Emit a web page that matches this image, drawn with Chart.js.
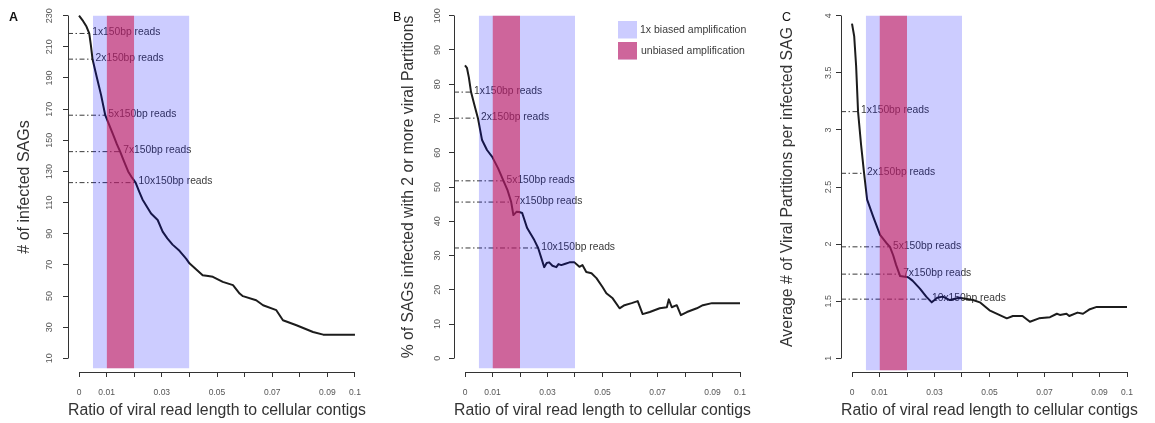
<!DOCTYPE html>
<html><head><meta charset="utf-8">
<script src="https://cdn.jsdelivr.net/npm/chart.js@4.4.1/dist/chart.umd.min.js"></script>
<style>
html,body{margin:0;padding:0;background:#fff;width:1155px;height:423px;overflow:hidden}
.p{position:absolute;top:0;width:385px;height:423px}
canvas{display:block}
</style></head><body>
<div class="p" style="left:0px"><canvas id="cA" width="385" height="423"></canvas></div>
<div class="p" style="left:385px"><canvas id="cB" width="385" height="423"></canvas></div>
<div class="p" style="left:770px"><canvas id="cC" width="385" height="423"></canvas></div>
<script>
// ---------- shared data ----------
const xTickValues = [0, 0.01, 0.02, 0.03, 0.04, 0.05, 0.06, 0.07, 0.08, 0.09, 0.1];
const xTickLabels = ['0', '0.01', '', '0.03', '', '0.05', '', '0.07', '', '0.09', '0.1'];
const xTitle = 'Ratio of viral read length to cellular contigs';
const readLabels = ['1x150bp reads', '2x150bp reads', '5x150bp reads', '7x150bp reads', '10x150bp reads'];
const bandBiased = [0.005, 0.04];
const bandUnbiased = [0.01, 0.02];
const legendLabels = ['1x biased amplification', 'unbiased amplification'];

// ---------- panel A ----------
const aYTicks = [10, 30, 50, 70, 90, 110, 130, 150, 170, 190, 210, 230];
const aYTickLabels = ['10', '30', '50', '70', '90', '110', '130', '150', '170', '190', '210', '230'];
const aYTitle = '# of infected SAGs';
const aX = [0, 0.0015, 0.0027, 0.0037, 0.0043, 0.0049, 0.0065, 0.008, 0.0095, 0.011, 0.0125, 0.0137, 0.0149, 0.0163, 0.0178, 0.0192, 0.0205, 0.0218, 0.023, 0.0261, 0.0285, 0.0303, 0.032, 0.0339, 0.0364, 0.0388, 0.040, 0.0425, 0.0448, 0.0468, 0.0485, 0.0521, 0.0558, 0.0582, 0.0594, 0.0642, 0.0667, 0.0715, 0.0739, 0.0788, 0.0848, 0.0885, 0.1];
const aY = [230, 226.5, 223, 218.6, 211, 202, 190, 179, 166.1, 159.5, 153, 147.5, 142.7, 136.5, 130, 126, 122.8, 117, 112, 103, 98.8, 91.3, 87, 83, 79, 74, 71, 67, 63.4, 62.8, 62.3, 59.1, 57, 51.6, 49.9, 47.3, 44.1, 40.9, 34.4, 31.2, 26.9, 25.2, 25.2];
const aReadX = [0.0037, 0.0049, 0.0095, 0.0149, 0.0205];
const aReadY = [218.6, 202.1, 166.1, 142.7, 122.8];
const aBandBottom = 3.6;

// ---------- panel B ----------
const bYTicks = [0, 10, 20, 30, 40, 50, 60, 70, 80, 90, 100];
const bYTickLabels = ['0', '10', '20', '30', '40', '50', '60', '70', '80', '90', '100'];
const bYTitle = '% of SAGs infected with 2 or more viral Partitions';
const bX = [0, 0.0007, 0.0014, 0.0022, 0.0034, 0.0047, 0.0062, 0.008, 0.0099, 0.012, 0.014, 0.0155, 0.0168, 0.0176, 0.0188, 0.0197, 0.0208, 0.0226, 0.0252, 0.0266, 0.0288, 0.0297, 0.0306, 0.0318, 0.0332, 0.034, 0.035, 0.0365, 0.038, 0.0398, 0.0416, 0.0427, 0.0441, 0.046, 0.0478, 0.050, 0.0514, 0.0537, 0.0562, 0.058, 0.0606, 0.0628, 0.0646, 0.0672, 0.0708, 0.0734, 0.0741, 0.0752, 0.077, 0.0785, 0.0807, 0.0843, 0.0865, 0.0898, 0.1];
const bY = [85.5, 84.8, 82, 77.7, 74, 70.1, 63.7, 60.8, 58.8, 55.5, 51.8, 49, 45.6, 41.8, 42.8, 42.7, 42.4, 38, 34.5, 32.2, 26.6, 27.8, 28, 27, 26.6, 27.5, 27.2, 27.6, 28, 28, 26.7, 27.2, 25.2, 24.8, 23.4, 20.8, 19, 17.5, 14.6, 15.5, 16.1, 16.7, 12.9, 13.5, 14.6, 14.9, 17.2, 14.9, 15.5, 12.6, 13.5, 14.6, 15.5, 16.1, 16.1];
const bReadX = [0.0022, 0.0047, 0.014, 0.0168, 0.0266];
const bReadY = [77.7, 70.1, 51.8, 45.6, 32.2];
const bBandBottom = -2.9;

// ---------- panel C ----------
const cYTicks = [1, 1.5, 2, 2.5, 3, 3.5, 4];
const cYTickLabels = ['1', '1.5', '2', '2.5', '3', '3.5', '4'];
const cYTitle = 'Average # of Viral Partitions per infected SAG';
const cX = [0, 0.0008, 0.0015, 0.0022, 0.0033, 0.0044, 0.0055, 0.0077, 0.0102, 0.0125, 0.0138, 0.015, 0.016, 0.0175, 0.0204, 0.022, 0.0247, 0.027, 0.029, 0.031, 0.033, 0.0356, 0.039, 0.044, 0.0465, 0.050, 0.0563, 0.0585, 0.062, 0.0647, 0.068, 0.072, 0.0745, 0.0756, 0.078, 0.079, 0.082, 0.084, 0.0865, 0.089, 0.1];
const cY = [3.93, 3.82, 3.56, 3.16, 2.87, 2.62, 2.39, 2.24, 2.08, 2.01, 1.976, 1.9, 1.82, 1.72, 1.71, 1.68, 1.61, 1.54, 1.49, 1.53, 1.54, 1.51, 1.53, 1.51, 1.49, 1.42, 1.35, 1.37, 1.37, 1.32, 1.35, 1.36, 1.39, 1.38, 1.39, 1.37, 1.40, 1.39, 1.43, 1.45, 1.45];
const cReadX = [0.0022, 0.0044, 0.0138, 0.0175, 0.028];
const cReadY = [3.16, 2.62, 1.976, 1.737, 1.518];
const cBandBottom = 0.895;

// ---------- styling ----------
const FONT = '"Liberation Sans", Arial, Helvetica, sans-serif';
const BLUE = 'rgba(0,0,255,0.2)';
const PINK = 'rgba(206,31,88,0.6)';
const INK = '#333333';
Chart.defaults.font.family = FONT;

function align(px) { return Math.round(px - 0.5) + 0.5; }

function decor(p) {
  return {
    id: 'decor' + p.letter,
    beforeDatasetsDraw(chart) {
      const ctx = chart.ctx, xs = chart.scales.x, ys = chart.scales.y;
      ctx.save();
      ctx.font = '10.3px ' + FONT;
      ctx.fillStyle = '#3a3a3a';
      ctx.textAlign = 'left';
      ctx.textBaseline = 'middle';
      readLabels.forEach((l, i) => {
        ctx.fillText(l, xs.getPixelForValue(p.readX[i]) + 3, ys.getPixelForValue(p.readY[i]) - 1);
      });
      ctx.restore();
    },
    afterDraw(chart) {
      const ctx = chart.ctx, xs = chart.scales.x, ys = chart.scales.y, ca = chart.chartArea;
      ctx.save();
      ctx.strokeStyle = INK;
      ctx.lineWidth = 1;
      ctx.beginPath();
      const by = align(ca.bottom);
      ctx.moveTo(align(xs.getPixelForValue(xTickValues[0])), by);
      ctx.lineTo(align(xs.getPixelForValue(xTickValues[xTickValues.length - 1])), by);
      const lx = align(ca.left);
      ctx.moveTo(lx, align(ys.getPixelForValue(p.yTicks[0])));
      ctx.lineTo(lx, align(ys.getPixelForValue(p.yTicks[p.yTicks.length - 1])));
      ctx.stroke();
      // panel letter
      ctx.fillStyle = '#111';
      ctx.font = (p.bold ? 'bold ' : '') + '12.5px ' + FONT;
      ctx.textAlign = 'left';
      ctx.textBaseline = 'alphabetic';
      ctx.fillText(p.letter, p.letterX, 21);
      if (p.legend) {
        const L = p.legend;
        ctx.fillStyle = BLUE;
        ctx.fillRect(L.x, L.y1, L.w, L.h);
        ctx.fillRect(L.x, L.y2, L.w, L.h);
        ctx.fillStyle = PINK;
        ctx.fillRect(L.x, L.y2, L.w, L.h);
        ctx.fillStyle = '#3a3a3a';
        ctx.font = '10.5px ' + FONT;
        ctx.textBaseline = 'middle';
        ctx.fillText(legendLabels[0], L.tx, L.y1 + L.h / 2);
        ctx.fillText(legendLabels[1], L.tx + 1, L.y2 + L.h / 2);
      }
      ctx.restore();
    }
  };
}

function makeChart(id, p) {
  const yLo = p.yTicks[0], yHi = p.yTicks[p.yTicks.length - 1];
  const yPad = 0.04 * (yHi - yLo);
  const xLo = xTickValues[0], xHi = xTickValues[xTickValues.length - 1];
  const xPad = 0.04 * (xHi - xLo);
  const none = 'rgba(0,0,0,0)';
  const datasets = [
    { data: [{ x: bandUnbiased[0], y: yHi }, { x: bandUnbiased[1], y: yHi }], fill: { value: p.bandBottom },
      backgroundColor: PINK, borderColor: none, borderWidth: 0, pointRadius: 0, order: 0 },
    { data: [{ x: bandBiased[0], y: yHi }, { x: bandBiased[1], y: yHi }], fill: { value: p.bandBottom },
      backgroundColor: BLUE, borderColor: none, borderWidth: 0, pointRadius: 0, order: 1 },
    { data: p.x.map((x, i) => ({ x, y: p.y[i] })), borderColor: '#1c1c1c', borderWidth: 2, pointRadius: 0,
      fill: false, tension: 0, order: 2, borderJoinStyle: 'round' }
  ];
  readLabels.forEach((l, i) => {
    datasets.push({ data: [{ x: xLo - xPad, y: p.readY[i] }, { x: p.readX[i], y: p.readY[i] }],
      borderColor: '#3a3a3a', borderWidth: 1, borderDash: [5, 2.5, 1.5, 2.5], pointRadius: 0, fill: false, order: 3 });
  });
  return new Chart(document.getElementById(id), {
    type: 'line',
    data: { datasets },
    options: {
      responsive: false, animation: false, devicePixelRatio: 1,
      layout: { padding: { left: 0, right: p.right, top: 2, bottom: 0 } },
      plugins: { legend: { display: false }, tooltip: { enabled: false } },
      scales: {
        x: {
          type: 'linear', min: xLo - xPad, max: xHi + xPad,
          afterBuildTicks: s => { s.ticks = xTickValues.map(v => ({ value: v })); },
          afterFit: s => { s.height = 51; s.paddingLeft = 0; s.paddingRight = 0; },
          grid: { display: true, drawOnChartArea: false, drawTicks: true, tickLength: 5, color: INK, lineWidth: 1 },
          border: { display: false },
          ticks: { autoSkip: false, minRotation: 0, maxRotation: 0, padding: 10.4, color: '#555',
            font: { family: FONT, size: 8.5 }, callback: (v, i) => xTickLabels[i] },
          title: { display: true, text: xTitle, color: INK, font: { family: FONT, size: 16 }, padding: { top: 0, bottom: 2.4 } }
        },
        y: {
          type: 'linear', min: yLo - yPad, max: yHi + yPad,
          afterBuildTicks: s => { s.ticks = p.yTicks.map(v => ({ value: v })); },
          afterFit: s => { s.width = p.left; s.paddingTop = 0; s.paddingBottom = 0; },
          grid: { display: true, drawOnChartArea: false, drawTicks: true, tickLength: 5, color: INK, lineWidth: 1 },
          border: { display: false },
          ticks: { autoSkip: false, minRotation: 90, maxRotation: 90, crossAlign: 'center', padding: p.yTickPad,
            color: '#555', font: { family: FONT, size: 9 }, callback: (v, i) => p.yTickLabels[i] },
          title: { display: true, text: p.yTitle, color: INK, font: { family: FONT, size: p.yTitleSize }, padding: { top: p.yTitlePad, bottom: 0 } }
        }
      }
    },
    plugins: [decor(p)]
  });
}

makeChart('cA', { letter: 'A', bold: true, letterX: 9, left: 68, right: 19, yTickPad: 5.5, yTitlePad: 15.1, yTitleSize: 16,
  yTicks: aYTicks, yTickLabels: aYTickLabels, yTitle: aYTitle, x: aX, y: aY, readX: aReadX, readY: aReadY, bandBottom: aBandBottom });
makeChart('cB', { letter: 'B', bold: false, letterX: 8, left: 69, right: 19, yTickPad: 4, yTitlePad: 14, yTitleSize: 15.7,
  yTicks: bYTicks, yTickLabels: bYTickLabels, yTitle: bYTitle, x: bX, y: bY, readX: bReadX, readY: bReadY, bandBottom: bBandBottom,
  legend: { x: 233, y1: 21, y2: 42, w: 19, h: 17.5, tx: 255 } });
makeChart('cC', { letter: 'C', bold: false, letterX: 12, left: 71, right: 17, yTickPad: 0.75, yTitlePad: 7.8, yTitleSize: 15.8,
  yTicks: cYTicks, yTickLabels: cYTickLabels, yTitle: cYTitle, x: cX, y: cY, readX: cReadX, readY: cReadY, bandBottom: cBandBottom });
</script>
</body></html>
